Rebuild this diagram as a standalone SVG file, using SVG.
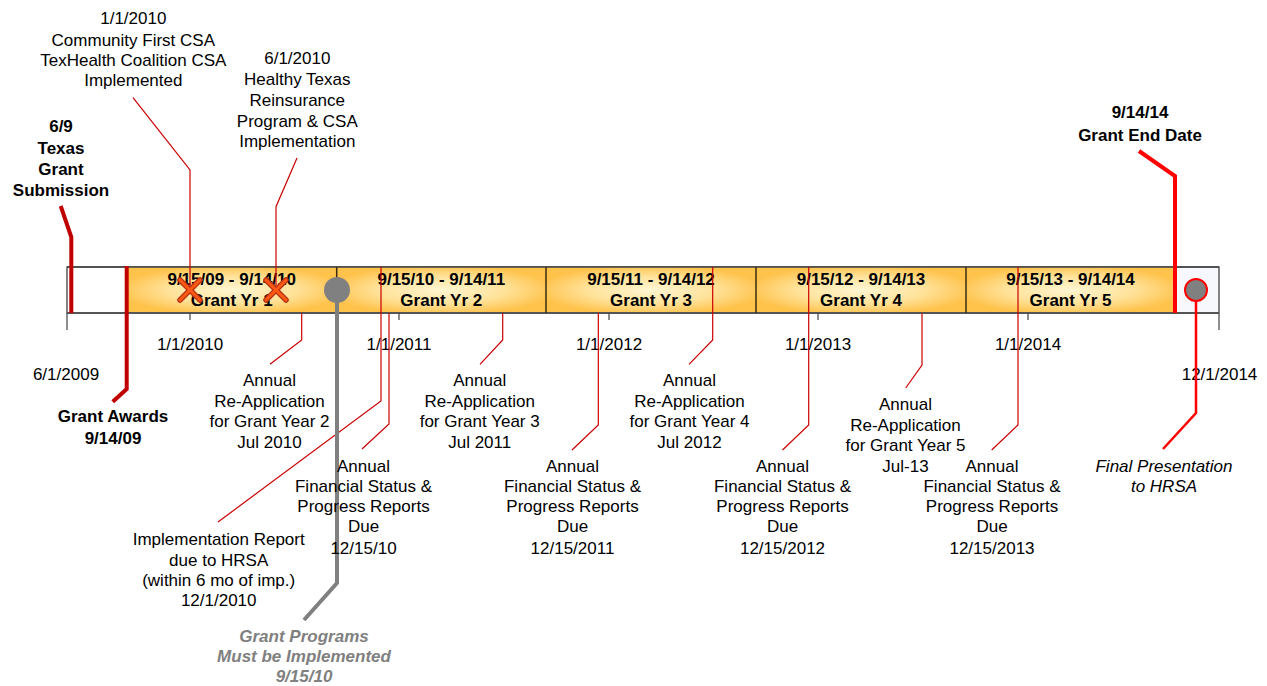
<svg xmlns="http://www.w3.org/2000/svg" width="1267" height="686" viewBox="0 0 1267 686">
<defs>
<radialGradient id="seg" cx="0.5" cy="0.5" r="0.55">
<stop offset="0" stop-color="#FFF6D2"/>
<stop offset="0.55" stop-color="#FFE29A"/>
<stop offset="1" stop-color="#FFC24A"/>
</radialGradient>
<linearGradient id="pale" x1="0" y1="0" x2="1" y2="0">
<stop offset="0" stop-color="#FFFFFF"/>
<stop offset="1" stop-color="#F6F8FE"/>
</linearGradient>
<style>
text{font-family:"Liberation Sans",Arial,sans-serif;font-size:17px;fill:#000;text-anchor:middle}
.b{font-weight:bold}
.gi{font-weight:bold;font-style:italic;fill:#808080}
.i{font-style:italic}
.thin{fill:none;stroke:#CC0000;stroke-width:1.2}
.dr{fill:none;stroke:#C00000;stroke-width:4}
.br{fill:none;stroke:#FF0000;stroke-width:4}
.tick{stroke:#444;stroke-width:1.2}
.div{stroke:#3A2C10;stroke-width:1.5}
.xo{stroke:#B83010;stroke-width:5.5;stroke-linecap:round}
.xi{stroke:#FF5A14;stroke-width:3;stroke-linecap:round}
</style>
</defs>
<rect width="1267" height="686" fill="#FFFFFF"/>

<g id="timeline-bar">
<rect x="67" y="267" width="1152" height="46" fill="url(#pale)" stroke="#333" stroke-width="1.2"/>
<rect x="126.7" y="267.6" width="210" height="44.8" fill="url(#seg)"/>
<rect x="336.7" y="267.6" width="209.3" height="44.8" fill="url(#seg)"/>
<rect x="546" y="267.6" width="210" height="44.8" fill="url(#seg)"/>
<rect x="756" y="267.6" width="210" height="44.8" fill="url(#seg)"/>
<rect x="966" y="267.6" width="209" height="44.8" fill="url(#seg)"/>
<line x1="67" y1="267" x2="1219" y2="267" stroke="#222" stroke-width="1.2"/>
<line x1="67" y1="313" x2="1219" y2="313" stroke="#555" stroke-width="2"/>
<line class="div" x1="336.7" y1="267" x2="336.7" y2="313"/>
<line class="div" x1="546" y1="267" x2="546" y2="313"/>
<line class="div" x1="756" y1="267" x2="756" y2="313"/>
<line class="div" x1="966" y1="267" x2="966" y2="313"/>
<line class="tick" x1="67" y1="313" x2="67" y2="330"/>
<line class="tick" x1="190" y1="313" x2="190" y2="320"/>
<line class="tick" x1="399" y1="313" x2="399" y2="320"/>
<line class="tick" x1="609" y1="313" x2="609" y2="320"/>
<line class="tick" x1="818" y1="313" x2="818" y2="320"/>
<line class="tick" x1="1028" y1="313" x2="1028" y2="320"/>
<line class="tick" x1="1219" y1="313" x2="1219" y2="330"/>
</g>

<g id="year1"><text class="b" x="231.7" y="285">9/15/09 - 9/14/10</text><text class="b" x="231.7" y="306">Grant Yr 1</text></g>
<g id="year2"><text class="b" x="441.3" y="285">9/15/10 - 9/14/11</text><text class="b" x="441.3" y="306">Grant Yr 2</text></g>
<g id="year3"><text class="b" x="651" y="285">9/15/11 - 9/14/12</text><text class="b" x="651" y="306">Grant Yr 3</text></g>
<g id="year4"><text class="b" x="861" y="285">9/15/12 - 9/14/13</text><text class="b" x="861" y="306">Grant Yr 4</text></g>
<g id="year5"><text class="b" x="1070.5" y="285">9/15/13 - 9/14/14</text><text class="b" x="1070.5" y="306">Grant Yr 5</text></g>

<g id="axis-labels">
<text x="66" y="380">6/1/2009</text>
<text x="190" y="350">1/1/2010</text>
<text x="399" y="350">1/1/2011</text>
<text x="609" y="350">1/1/2012</text>
<text x="818" y="350">1/1/2013</text>
<text x="1028" y="350">1/1/2014</text>
<text x="1219.5" y="380">12/1/2014</text>
</g>

<g id="connectors">
<polyline class="dr" points="60.7,206 71.3,237 71.3,313"/>
<polyline class="dr" points="126.7,266 126.7,389 112.7,401.7"/>
<polyline class="br" points="1139,151 1175,176 1175,313"/>
<polyline class="thin" points="133,97.7 190,170 190,290"/>
<polyline class="thin" points="297,158 276,206.7 276,290"/>
<polyline class="thin" points="301.7,313 301.7,340 270,364.3"/>
<polyline class="thin" points="381,267 381,401 218,522"/>
<polyline class="thin" points="389,313 389,424 362,449"/>
<polyline class="thin" points="502.7,313 502.7,340 480,364.3"/>
<polyline class="thin" points="598.3,313 598.3,425 572,450"/>
<polyline class="thin" points="712.7,267 712.7,340 689,364.3"/>
<polyline class="thin" points="808.7,267 808.7,425 782.5,450"/>
<polyline class="thin" points="922,313 922,365 905.7,388"/>
<polyline class="thin" points="1018,267 1018,425 991.7,450"/>
<polyline fill="none" stroke="#808080" stroke-width="4" points="337,290 337,583 304,620"/>
<polyline fill="none" stroke="#FF0000" stroke-width="2.5" points="1196,301 1196,413 1163,449"/>
</g>

<g id="markers">
<line class="xo" x1="180" y1="280" x2="200" y2="300"/><line class="xo" x1="200" y1="280" x2="180" y2="300"/>
<line class="xi" x1="180" y1="280" x2="200" y2="300"/><line class="xi" x1="200" y1="280" x2="180" y2="300"/>
<line class="xo" x1="266" y1="280" x2="286" y2="300"/><line class="xo" x1="286" y1="280" x2="266" y2="300"/>
<line class="xi" x1="266" y1="280" x2="286" y2="300"/><line class="xi" x1="286" y1="280" x2="266" y2="300"/>
<circle cx="337" cy="290" r="13" fill="#808080"/>
<circle cx="1196" cy="290" r="11" fill="#808080" stroke="#FF0000" stroke-width="2"/>
</g>

<g id="texas-submission"><text class="b" x="61" y="132">6/9</text><text class="b" x="61" y="154">Texas</text><text class="b" x="61" y="175">Grant</text><text class="b" x="61" y="195.5">Submission</text></g>
<g id="community-first"><text x="133.3" y="23.5">1/1/2010</text><text x="133.3" y="46">Community First CSA</text><text x="133.3" y="66">TexHealth Coalition CSA</text><text x="133.3" y="86">Implemented</text></g>
<g id="healthy-texas"><text x="297.3" y="63.5">6/1/2010</text><text x="297.3" y="85">Healthy Texas</text><text x="297.3" y="106">Reinsurance</text><text x="297.3" y="126.5">Program &amp; CSA</text><text x="297.3" y="147">Implementation</text></g>
<g id="grant-awards"><text class="b" x="113" y="422">Grant Awards</text><text class="b" x="113" y="444">9/14/09</text></g>
<g id="grant-end"><text class="b" x="1140" y="118">9/14/14</text><text class="b" x="1140" y="140.5">Grant End Date</text></g>

<g id="reapp-2"><text x="269.5" y="386">Annual</text><text x="269.5" y="406.5">Re-Application</text><text x="269.5" y="427">for Grant Year 2</text><text x="269.5" y="447.5">Jul 2010</text></g>
<g id="reapp-3"><text x="479.7" y="386">Annual</text><text x="479.7" y="406.5">Re-Application</text><text x="479.7" y="427">for Grant Year 3</text><text x="479.7" y="447.5">Jul 2011</text></g>
<g id="reapp-4"><text x="689.5" y="386">Annual</text><text x="689.5" y="406.5">Re-Application</text><text x="689.5" y="427">for Grant Year 4</text><text x="689.5" y="447.5">Jul 2012</text></g>
<g id="reapp-5"><text x="905.5" y="410">Annual</text><text x="905.5" y="430.5">Re-Application</text><text x="905.5" y="451">for Grant Year 5</text><text x="905.5" y="471.5">Jul-13</text></g>

<g id="fsr-1"><text x="363.5" y="471.5">Annual</text><text x="363.5" y="491.5">Financial Status &amp;</text><text x="363.5" y="512">Progress Reports</text><text x="363.5" y="532">Due</text><text x="363.5" y="554">12/15/10</text></g>
<g id="fsr-2"><text x="572.5" y="471.5">Annual</text><text x="572.5" y="491.5">Financial Status &amp;</text><text x="572.5" y="512">Progress Reports</text><text x="572.5" y="532">Due</text><text x="572.5" y="554">12/15/2011</text></g>
<g id="fsr-3"><text x="782.5" y="471.5">Annual</text><text x="782.5" y="491.5">Financial Status &amp;</text><text x="782.5" y="512">Progress Reports</text><text x="782.5" y="532">Due</text><text x="782.5" y="554">12/15/2012</text></g>
<g id="fsr-4"><text x="992" y="471.5">Annual</text><text x="992" y="491.5">Financial Status &amp;</text><text x="992" y="512">Progress Reports</text><text x="992" y="532">Due</text><text x="992" y="554">12/15/2013</text></g>

<g id="implementation-report"><text x="218.7" y="545">Implementation Report</text><text x="218.7" y="565.5">due to HRSA</text><text x="218.7" y="586">(within 6 mo of imp.)</text><text x="218.7" y="606">12/1/2010</text></g>
<g id="grant-programs"><text class="gi" x="304" y="641.5">Grant Programs</text><text class="gi" x="304" y="661.5">Must be Implemented</text><text class="gi" x="304" y="682">9/15/10</text></g>
<g id="final-presentation"><text class="i" x="1164" y="471.5">Final Presentation</text><text class="i" x="1164" y="491.5">to HRSA</text></g>
</svg>
